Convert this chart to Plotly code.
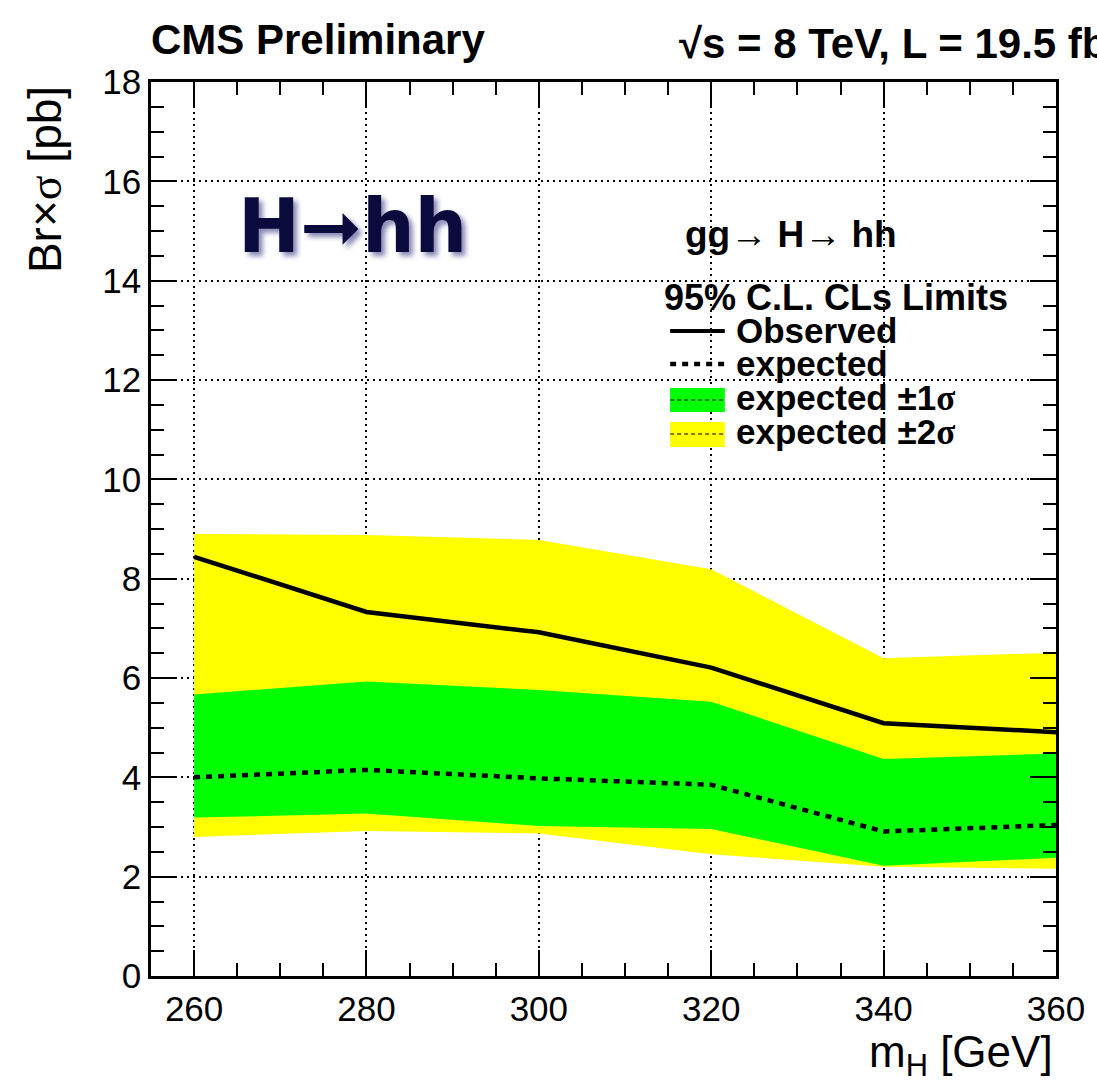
import plotly.graph_objects as go

# ---------------- data ----------------
mass = [260, 280, 300, 320, 340, 360]
observed = [8.44, 7.33, 6.92, 6.21, 5.09, 4.91]
expected = [4.00, 4.15, 3.98, 3.85, 2.91, 3.04]
exp_plus1 = [5.67, 5.93, 5.76, 5.52, 4.37, 4.48]
exp_minus1 = [3.19, 3.27, 3.02, 2.96, 2.22, 2.38]
exp_plus2 = [8.90, 8.88, 8.78, 8.19, 6.40, 6.51]
exp_minus2 = [2.80, 2.92, 2.87, 2.45, 2.20, 2.16]
x_ticks = [260, 280, 300, 320, 340, 360]
y_ticks = [0, 2, 4, 6, 8, 10, 12, 14, 16, 18]

# ---------------- layout helpers ----------------
W, H = 1097, 1088
L, R, T, B = 151, 1061, 82, 976
FONT = "Liberation Sans, Arial, Helvetica, sans-serif"
SERIF = "Liberation Serif"


def px(x):
    return (x - L) / (R - L)


def py(y):
    return (B - y) / (B - T)


YELLOW = "#ffff00"
GREEN = "#00ff00"

fig = go.Figure()

fig.add_trace(go.Scatter(
    x=mass + mass[::-1], y=exp_plus2 + exp_minus2[::-1],
    fill="toself", fillcolor=YELLOW, line=dict(width=0),
    mode="lines", hoverinfo="skip", showlegend=False))
fig.add_trace(go.Scatter(
    x=mass + mass[::-1], y=exp_plus1 + exp_minus1[::-1],
    fill="toself", fillcolor=GREEN, line=dict(width=0),
    mode="lines", hoverinfo="skip", showlegend=False))
fig.add_trace(go.Scatter(
    x=mass, y=expected, mode="lines",
    line=dict(color="black", width=4.5, dash="6px,6px"), showlegend=False))
fig.add_trace(go.Scatter(
    x=mass, y=observed, mode="lines",
    line=dict(color="black", width=4.5), showlegend=False))

axis_common = dict(
    showline=True, linecolor="black", linewidth=2.5, mirror="allticks",
    ticks="inside", ticklen=26, tickwidth=1.5, tickcolor="black",
    showgrid=True, gridcolor="black", gridwidth=1.5, griddash="2px,4px",
    zeroline=False, tickfont=dict(family=FONT, size=35, color="black"),
)

fig.update_xaxes(
    range=[255, 360], tickvals=x_ticks, ticktext=[str(v) for v in x_ticks],
    minor=dict(ticks="inside", dtick=5, tick0=255, ticklen=13, tickwidth=1.5,
               tickcolor="black", showgrid=False),
    **axis_common)
fig.update_yaxes(
    range=[0, 18], tickvals=y_ticks, ticktext=[str(v) for v in y_ticks],
    minor=dict(ticks="inside", dtick=0.5, ticklen=13, tickwidth=1.5,
               tickcolor="black", showgrid=False),
    **axis_common)

shapes = []
# white boxes behind the text pave and the legend (hide the grid)
shapes.append(dict(type="rect", xref="paper", yref="paper", layer="between",
                   x0=px(685), x1=px(915), y0=py(165), y1=py(290),
                   fillcolor="white", line=dict(width=0)))
shapes.append(dict(type="rect", xref="paper", yref="paper", layer="between",
                   x0=px(662), x1=px(982), y0=py(270), y1=py(453),
                   fillcolor="white", line=dict(width=0)))
# legend samples
shapes.append(dict(type="line", xref="paper", yref="paper",
                   x0=px(673), x1=px(728), y0=py(331), y1=py(331),
                   line=dict(color="black", width=4)))
shapes.append(dict(type="line", xref="paper", yref="paper",
                   x0=px(673), x1=px(728), y0=py(364), y1=py(364),
                   line=dict(color="black", width=4.5, dash="6px,6px")))
shapes.append(dict(type="rect", xref="paper", yref="paper",
                   x0=px(673), x1=px(728), y0=py(412), y1=py(388),
                   fillcolor=GREEN, line=dict(width=0)))
shapes.append(dict(type="line", xref="paper", yref="paper",
                   x0=px(673), x1=px(728), y0=py(400), y1=py(400),
                   line=dict(color="black", width=1, dash="4px,3px")))
shapes.append(dict(type="rect", xref="paper", yref="paper",
                   x0=px(673), x1=px(728), y0=py(447), y1=py(422),
                   fillcolor=YELLOW, line=dict(width=0)))
shapes.append(dict(type="line", xref="paper", yref="paper",
                   x0=px(673), x1=px(728), y0=py(434), y1=py(434),
                   line=dict(color="black", width=1, dash="4px,3px")))

ann = []


def text(x, y, s, size, bold=True, xanchor="left", yanchor="middle",
         color="black", family=FONT, **kw):
    ann.append(dict(xref="paper", yref="paper", x=px(x), y=py(y), text=s,
                    showarrow=False, xanchor=xanchor, yanchor=yanchor,
                    font=dict(family=family, size=size, color=color,
                              weight="bold" if bold else "normal"), **kw))


text(149, 40, "CMS Preliminary", 42)
text(680, 40, "√s = 8 TeV, L = 19.5 fb<sup>-1</sup>", 42)
text(686, 234, "gg→ H→ hh", 37)
text(665, 297, "95% C.L. CLs Limits", 36)
text(737, 330, "Observed", 35)
text(737, 363, "expected", 35)
text(737, 398, "expected ±1<span style='font-family:%s'>σ</span>" % SERIF, 35)
text(737, 432, "expected ±2<span style='font-family:%s'>σ</span>" % SERIF, 35)

# big H->hh label with shadow
ann.append(dict(xref="paper", yref="paper", x=px(236), y=py(226), text="H➞hh",
                showarrow=False, xanchor="left", yanchor="middle",
                font=dict(family="DejaVu Sans, Liberation Sans, sans-serif",
                          size=74, color="#0a0a3c", weight="bold",
                          shadow="4px 4px 5px rgba(40,40,120,0.55)")))

# axis titles
ann.append(dict(xref="paper", yref="paper", x=px(44), y=py(84),
                text="Br×<span style='font-family:%s'>σ</span> [pb]" % SERIF,
                textangle=-90, showarrow=False, xanchor="center", yanchor="top",
                font=dict(family=FONT, size=46, color="black")))
ann.append(dict(xref="paper", yref="paper", x=px(1060), y=py(1055),
                text="m<sub>H</sub> [GeV]",
                showarrow=False, xanchor="right", yanchor="middle",
                font=dict(family=FONT, size=44, color="black")))

fig.update_layout(
    width=W, height=H,
    margin=dict(l=L, r=W - R, t=T, b=H - B),
    paper_bgcolor="white", plot_bgcolor="white",
    shapes=shapes, annotations=ann, showlegend=False,
    font=dict(family=FONT, color="black"),
)

fig.write_html("out.html")
